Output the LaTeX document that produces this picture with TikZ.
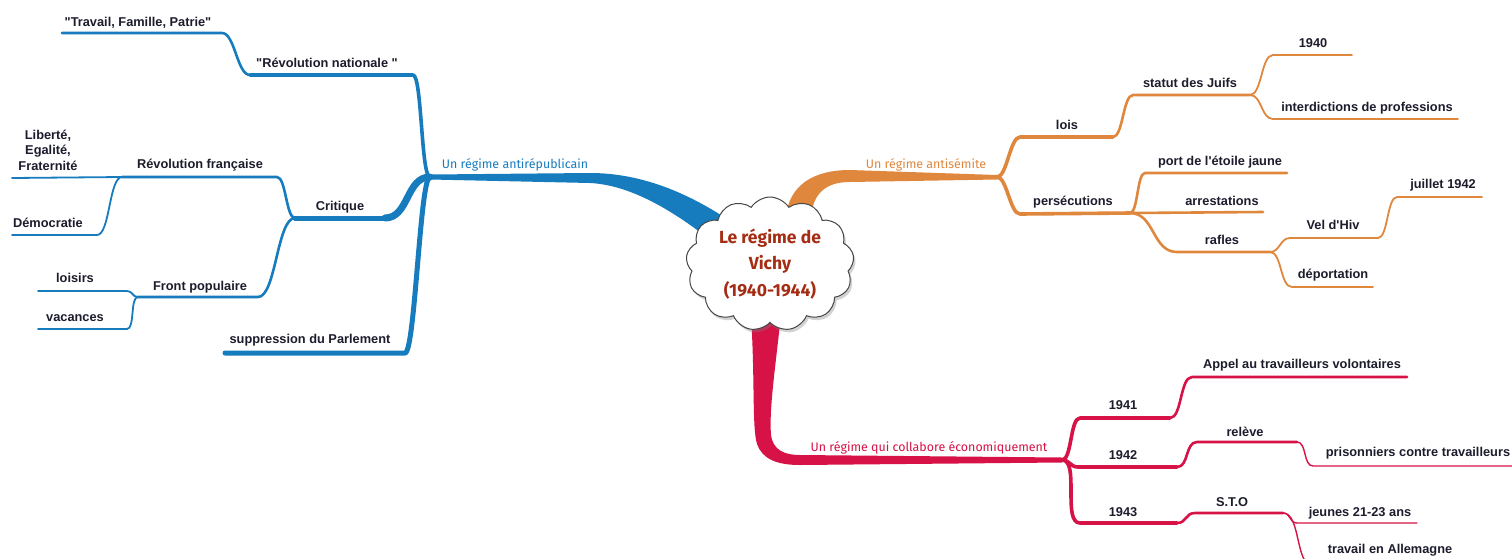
\documentclass[tikz,border=0pt]{standalone}
\usepackage{fontspec}
\setmainfont{Liberation Sans}
\newfontfamily\brfont{Fira Sans}
\usetikzlibrary{shapes.symbols,shadows}
\definecolor{cblue}{RGB}{22,124,190}
\definecolor{corange}{RGB}{224,135,62}
\definecolor{cred}{RGB}{214,18,70}
\definecolor{ctext}{RGB}{28,28,45}
\definecolor{ccenter}{RGB}{165,45,20}
\tikzset{
  lbl/.style={font=\bfseries\fontsize{12.8}{15.5}\selectfont, text=ctext, inner sep=0pt},
  brl/.style={font=\brfont\fontsize{12.4}{14}\selectfont, inner sep=0pt},
  br/.style={line cap=round, line join=round},
  wA/.style={br, line width=5pt},
  wB/.style={br, line width=3.6pt},
  wC/.style={br, line width=2.6pt},
  wD/.style={br, line width=1.8pt},
  scd/.style 2 args={out=#1, in=#1+180, distance=#2},
}
\begin{document}
\begin{tikzpicture}[x=1pt,y=-1pt]
\useasboundingbox (0,0) rectangle (1512,558);
\fill[white] (0,0) rectangle (1512,558);

% ---------------- BLUE ----------------
\coordinate (hubB) at (430,177);
\coordinate (rnR) at (413,75); \coordinate (rnL) at (250,75);
\coordinate (tfpR) at (222,33); \coordinate (tfpL) at (62,33);
\coordinate (crR) at (385,218); \coordinate (cj) at (295,218);
\coordinate (rfR) at (277,177); \coordinate (rfj) at (122,177);
\coordinate (lefL) at (12,178);
\coordinate (demR) at (97,235); \coordinate (demL) at (12,235);
\coordinate (fpR) at (258,297); \coordinate (fpj) at (138,297);
\coordinate (loR) at (127,291); \coordinate (loL) at (38,291);
\coordinate (vaR) at (127,329); \coordinate (vaL) at (38,329);
\coordinate (spR) at (405,353); \coordinate (spL) at (225,353);

\fill[cblue] (hubB) ++(0,-2.5) -- (590,173) .. controls (640,173) and (690,192) .. (740,228)
  -- (725,252) .. controls (675,210) and (630,185) .. (590,183) -- (430,179.5) -- cycle;
\draw[cblue,wB] (hubB) to[scd={180}{9pt}] (rnR) -- (rnL);
\draw[cblue,wC] (rnL) to[scd={180}{13pt}] (tfpR) -- (tfpL);
\draw[cblue,line width=7pt,br] (hubB) to[scd={180}{24pt}] (crR);
\draw[cblue,wA] (crR) -- (cj);
\draw[cblue,wC] (cj) to[scd={180}{9pt}] (rfR) -- (rfj);
\draw[cblue,wD] (rfj) -- (lefL);
\draw[cblue,wD] (rfj) to[scd={180}{13pt}] (demR) -- (demL);
\draw[cblue,wC] (cj) to[scd={180}{18pt}] (fpR) -- (fpj);
\draw[cblue,wD] (fpj) to[scd={180}{6pt}] (loR) -- (loL);
\draw[cblue,wD] (fpj) to[scd={180}{8pt}] (vaR) -- (vaL);
\draw[cblue,wA] (hubB) to[scd={180}{10pt}] (spR) -- (spL);

\node[brl,text=cblue] (antirep) at (515,165) {Un régime antirépublicain};
\node[lbl] (tfp) at (138,23) {\textquotedbl Travail, Famille, Patrie\textquotedbl};
\node[lbl] (rn) at (327,63) {\textquotedbl Révolution nationale \textquotedbl};
\node[lbl,align=center] (lef) at (48,150) {Liberté,\\Egalité,\\Fraternité};
\node[lbl] (rf) at (200,165) {Révolution française};
\node[lbl] (dem) at (48,223) {Démocratie};
\node[lbl] (crit) at (340,207) {Critique};
\node[lbl] (fp) at (200,287) {Front populaire};
\node[lbl] (lo) at (75,278) {loisirs};
\node[lbl] (va) at (75,318) {vacances};
\node[lbl] (sp) at (310,340) {suppression du Parlement};

% ---------------- ORANGE ----------------
\coordinate (hubO) at (997,177);
\coordinate (loisR) at (1020,137); \coordinate (loisE) at (1113,137);
\coordinate (stR) at (1133,95); \coordinate (stE) at (1250,95);
\coordinate (y40R) at (1273,55); \coordinate (y40E) at (1352,55);
\coordinate (intR) at (1273,119); \coordinate (intE) at (1458,119);
\coordinate (perR) at (1020,214); \coordinate (perE) at (1130,213);
\coordinate (portR) at (1145,173); \coordinate (portE) at (1287,173);
\coordinate (arrE) at (1263,212);
\coordinate (rafR) at (1177,252); \coordinate (rafE) at (1270,252);
\coordinate (velR) at (1290,238); \coordinate (velE) at (1378,238);
\coordinate (julR) at (1397,197); \coordinate (julE) at (1482,197);
\coordinate (depR) at (1292,287); \coordinate (depE) at (1373,287);

\fill[corange] (786,215) .. controls (790,186) and (812,170) .. (850,170)
  -- (997,175) -- (997,179.5) -- (850,182) .. controls (826,182) and (814,193) .. (811,215) -- cycle;
\draw[corange,wB] (hubO) to[scd={0}{10pt}] (loisR) -- (loisE);
\draw[corange,wC] (loisE) to[scd={0}{10pt}] (stR) -- (stE);
\draw[corange,wD] (stE) to[scd={0}{12pt}] (y40R) -- (y40E);
\draw[corange,wD] (stE) to[scd={0}{12pt}] (intR) -- (intE);
\draw[corange,wB] (hubO) to[scd={0}{10pt}] (perR) -- (perE);
\draw[corange,wC] (perE) to[scd={0}{8pt}] (portR) -- (portE);
\draw[corange,wC] (perE) -- (arrE);
\draw[corange,wC] (perE) to[scd={0}{25pt}] (rafR) -- (rafE);
\draw[corange,wD] (rafE) to[scd={0}{10pt}] (velR) -- (velE);
\draw[corange,wD] (velE) to[scd={0}{10pt}] (julR) -- (julE);
\draw[corange,wD] (rafE) to[scd={0}{12pt}] (depR) -- (depE);

\node[brl,text=corange] (antisem) at (926,165) {Un régime antisémite};
\node[lbl] (lois) at (1067,125) {lois};
\node[lbl] (statut) at (1190,83) {statut des Juifs};
\node[lbl] (y40) at (1313,43) {1940};
\node[lbl] (interd) at (1367,108) {interdictions de professions};
\node[lbl] (pers) at (1073,202) {persécutions};
\node[lbl] (port) at (1220,162) {port de l\textquotesingle étoile jaune};
\node[lbl] (arr) at (1222,201) {arrestations};
\node[lbl] (rafles) at (1222,240) {rafles};
\node[lbl] (vel) at (1333,225) {Vel d\textquotesingle Hiv};
\node[lbl] (juil) at (1443,185) {juillet 1942};
\node[lbl] (dep) at (1333,275) {déportation};

% ---------------- RED ----------------
\coordinate (hubR) at (1062,460);
\coordinate (a41R) at (1080,418); \coordinate (a41E) at (1170,418);
\coordinate (appR) at (1192,377); \coordinate (appE) at (1407,377);
\coordinate (a42R) at (1078,467); \coordinate (a42E) at (1177,467);
\coordinate (relR) at (1197,442); \coordinate (relE) at (1297,442);
\coordinate (priR) at (1313,466); \coordinate (priE) at (1512,466);
\coordinate (a43R) at (1080,523); \coordinate (a43E) at (1177,523);
\coordinate (stoR) at (1195,513); \coordinate (stoE) at (1283,513);
\coordinate (jeuR) at (1297,523); \coordinate (jeuE) at (1417,523);
\coordinate (traR) at (1313,566); \coordinate (traE) at (1452,566);

\fill[cred] (751,315) .. controls (755,380) and (752,428) .. (757,444)
  .. controls (762,458) and (775,465) .. (800,465) -- (1062,462.5) -- (1062,457.5)
  -- (800,455) .. controls (784,455) and (773,450) .. (771,435)
  .. controls (769,410) and (775,370) .. (781,315) -- cycle;
\draw[cred,wB] (hubR) to[scd={0}{10pt}] (a41R) -- (a41E);
\draw[cred,wC] (a41E) to[scd={0}{12pt}] (appR) -- (appE);
\draw[cred,wB] (hubR) to[scd={0}{8pt}] (a42R) -- (a42E);
\draw[cred,wC] (a42E) to[scd={0}{12pt}] (relR) -- (relE);
\draw[cred,line width=1.4pt,br] (relE) to[scd={0}{10pt}] (priR) -- (priE);
\draw[cred,wB] (hubR) to[scd={0}{18pt}] (a43R) -- (a43E);
\draw[cred,wC] (a43E) to[scd={0}{10pt}] (stoR) -- (stoE);
\draw[cred,line width=1.4pt,br] (stoE) to[scd={0}{8pt}] (jeuR) -- (jeuE);
\draw[cred,line width=1.4pt,br] (stoE) to[scd={0}{18pt}] (traR) -- (traE);

\node[brl,text=cred] (collab) at (929,448) {Un régime qui collabore économiquement};
\node[lbl] (y41) at (1123,405) {1941};
\node[lbl] (y42) at (1123,455) {1942};
\node[lbl] (y43) at (1123,512) {1943};
\node[lbl] (appel) at (1302,365) {Appel au travailleurs volontaires};
\node[lbl] (releve) at (1245,432) {relève};
\node[lbl] (pris) at (1418,453) {prisonniers contre travailleurs};
\node[lbl] (sto) at (1232,502) {S.T.O};
\node[lbl] (jeunes) at (1360,513) {jeunes 21-23 ans};
\node[lbl] (trav) at (1390,550) {travail en Allemagne};

% ---------------- CENTER ----------------
\node[cloud, cloud puffs=13, cloud puff arc=115, aspect=1.25,
  minimum width=168pt, minimum height=134pt, inner sep=0pt,
  draw=gray!55!black, line width=1pt, fill=white,
  drop shadow={opacity=0.35, shadow xshift=2pt, shadow yshift=-3pt},
  align=center, text=ccenter,
  font=\brfont\bfseries\fontsize{17.5}{26.5}\selectfont] (center) at (770,264)
  {Le régime de\\Vichy\\(1940-1944)};
\end{tikzpicture}
\end{document}
